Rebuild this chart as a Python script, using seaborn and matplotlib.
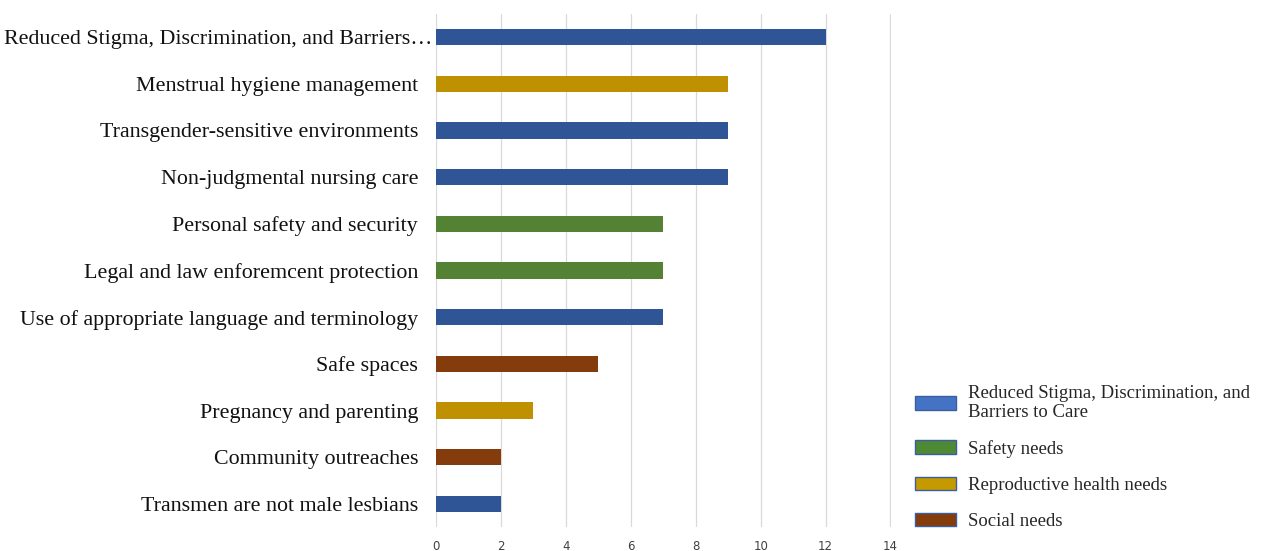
import matplotlib
matplotlib.use("Agg")
import matplotlib.pyplot as plt
import matplotlib.transforms as mtransforms
import seaborn as sns
import pandas as pd
from matplotlib.patches import Patch

# Needs, top to bottom as shown
needs = [
    "Reduced Stigma, Discrimination, and Barriers\u2026",
    "Menstrual hygiene management",
    "Transgender-sensitive environments",
    "Non-judgmental nursing care",
    "Personal safety and security",
    "Legal and law enforemcent protection",
    "Use of appropriate language and terminology",
    "Safe spaces",
    "Pregnancy and parenting",
    "Community outreaches",
    "Transmen are not male lesbians",
]
counts = [12, 9, 9, 9, 7, 7, 7, 5, 3, 2, 2]
groups = [
    "Reduced Stigma, Discrimination, and Barriers to Care",
    "Reproductive health needs",
    "Reduced Stigma, Discrimination, and Barriers to Care",
    "Reduced Stigma, Discrimination, and Barriers to Care",
    "Safety needs",
    "Safety needs",
    "Reduced Stigma, Discrimination, and Barriers to Care",
    "Social needs",
    "Reproductive health needs",
    "Social needs",
    "Reduced Stigma, Discrimination, and Barriers to Care",
]
group_order = [
    "Reduced Stigma, Discrimination, and Barriers to Care",
    "Safety needs",
    "Reproductive health needs",
    "Social needs",
]
bar_colors = ["#2F5597", "#548235", "#BF9000", "#843C0C"]
legend_colors = ["#4472C4", "#4E8A35", "#C49A00", "#843C0C"]
x_ticks = [0, 2, 4, 6, 8, 10, 12, 14]

df = pd.DataFrame({"need": needs, "count": counts, "group": groups})

sns.set_style("white")
plt.rcParams["font.family"] = ["Liberation Serif", "DejaVu Serif"]

fig = plt.figure(figsize=(12.64, 5.51), dpi=100)
ax = fig.add_axes([0.345, 0.043, 0.36, 0.932])

sns.barplot(
    data=df, x="count", y="need", hue="group", hue_order=group_order,
    palette=bar_colors, dodge=False, width=0.35, orient="h",
    saturation=1, ax=ax, legend=False, linewidth=0,
)

ax.set_xlim(0, 14.02)
ax.set_xticks(x_ticks)
ax.set_xticklabels([str(t) for t in x_ticks], family="DejaVu Sans",
                   fontsize=8.5, color="#404040")
ax.tick_params(axis="x", length=0, pad=9)
ax.tick_params(axis="y", length=0, pad=13, labelsize=15.8, labelcolor="#111111")
ax.xaxis.grid(True, color="#D9D9D9", linewidth=0.9)
ax.set_axisbelow(True)
ax.set_xlabel("")
ax.set_ylabel("")
for s in ax.spines.values():
    s.set_visible(False)

# the truncated first label runs into the bar, as in the original
first = ax.get_yticklabels()[0]
first.set_transform(first.get_transform()
                    + mtransforms.ScaledTranslation(14 / 100, 0, fig.dpi_scale_trans))

handles = [Patch(facecolor=c, edgecolor="#3A5F9E", linewidth=1.0) for c in legend_colors]
labels = [
    "Reduced Stigma, Discrimination, and\nBarriers to Care",
    "Safety needs",
    "Reproductive health needs",
    "Social needs",
]
fig.legend(
    handles, labels, loc="upper left", bbox_to_anchor=(0.724, 0.302),
    frameon=False, fontsize=13.5, handlelength=2.2, handleheight=0.75,
    labelspacing=1.0, handletextpad=0.6, borderpad=0, borderaxespad=0,
)

fig.savefig("out.png", dpi=100)
